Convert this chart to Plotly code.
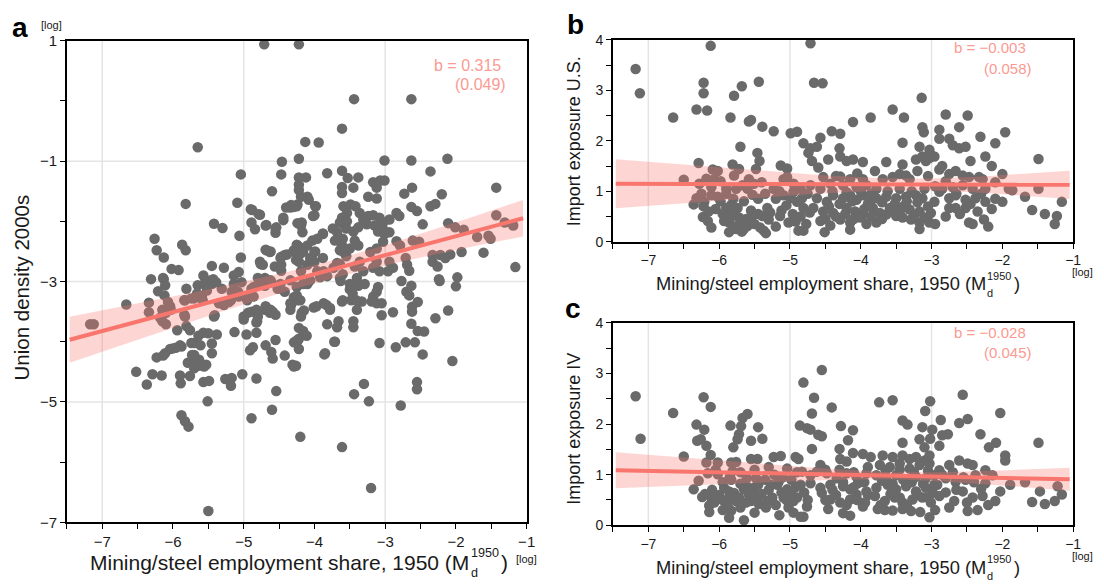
import numpy as np
import plotly.graph_objects as go

W, H = 1104, 586
FONT = "Liberation Sans, Arial, sans-serif"

# ---------------- data ----------------
# panel a: log mining/steel share (x) vs log union density 2000s (y)
a_x = [-4.71, -4.22, -5.65, -4.46, -4.47, -5.04, -4.22, -4.60, -4.40, -4.33, -4.29, -5.82, -5.09, -4.88, -4.77,
       -4.89, -4.84, -4.68, -4.54, -4.55, -4.44, -4.24, -5.42, -5.30, -5.06, -6.26, -6.23, -6.13, -5.87, -5.82,
       -6.02, -5.92, -5.45, -5.28, -5.04, -5.07, -5.14, -6.31, -6.14, -5.57, -5.43, -4.68, -4.63, -4.77, -4.73,
       -4.56, -4.47, -4.47, -4.42, -4.29, -4.24, -4.26, -4.47, -4.80, -4.70,
       -3.44, -2.63, -3.61, -4.13, -3.94, -3.01, -2.63, -2.12, -3.82, -3.61, -3.53, -3.38, -3.17, -3.07, -3.12,
       -3.01, -3.45, -3.24, -3.12, -3.61, -3.61, -4.22, -4.22, -4.22, -4.12, -4.19, -4.10, -4.24, -4.08, -2.73,
       -2.62, -2.36, -2.20, -1.43, -2.36, -2.29, -2.63, -2.55, -2.84, -2.80, -3.98, -4.00, -3.59, -3.54, -3.49,
       -3.42, -3.61, -3.59, -3.54, -3.36, -3.31, -3.24, -3.17, -3.08, -3.03, -3.26, -3.15, -3.10, -3.03, -2.94,
       -4.19, -4.17, -3.88, -3.68, -3.71, -3.45, -3.38, -3.43, -3.38, -3.61, -3.59, -3.64, -4.10, -4.03, -3.96,
       -4.22, -4.19, -4.00, -3.21, -3.12, -3.03, -3.01, -2.94, -2.84, -2.79, -2.61, -2.52, -2.47, -2.11, -2.01,
       -1.89, -1.70, -1.54, -1.51, -1.43, -1.31, -1.19, -1.61, -1.92, -2.33, -2.22, -2.15, -2.08, -2.33, -2.26,
       -1.98, -1.16, -2.24, -2.71, -2.69, -2.66, -2.94, -2.89, -2.96, -3.12, -3.17, -3.08, -3.36, -3.43, -3.31,
       -3.40, -3.68, -3.73, -3.64, -4.00, -3.96, -4.10, -4.19, -3.87, -3.82, -4.22,
       -7.17, -7.12, -6.66, -6.52, -6.37, -6.29, -6.16, -6.23, -6.14, -6.34, -6.34, -6.21, -6.12, -6.07, -6.15,
       -6.10, -6.15, -6.10, -6.03, -5.94, -6.04, -5.96, -5.88, -5.90, -5.89, -5.76, -5.88, -5.83, -5.78, -5.84,
       -5.84, -5.76, -5.70, -5.61, -5.73, -5.68, -5.64, -5.56, -5.79, -5.64, -5.57, -5.50, -5.38, -5.45, -5.45,
       -5.57, -5.49, -5.51, -5.50, -5.70, -5.66, -5.59, -5.52, -5.45, -5.41, -5.35, -5.28, -5.21, -5.17, -5.14,
       -5.03, -5.26, -5.17, -5.18, -5.13, -5.02, -4.96, -5.00, -4.94, -4.89, -4.82, -4.80, -4.82, -4.82, -4.89,
       -4.91, -4.87, -4.82, -4.69, -4.61, -4.59, -4.55, -4.54, -4.60, -4.70, -4.63, -4.59, -4.42, -4.31, -4.29,
       -4.33, -4.29, -4.24, -4.29, -4.94, -4.89, -4.70, -4.61, -4.52, -4.42, -5.08, -5.31, -4.20,
       -3.61, -3.20, -3.30, -3.44, -3.23, -3.08, -2.85, -2.78, -2.55, -2.55, -2.71, -2.58, -2.47, -2.05, -2.29,
       -2.11, -2.63, -2.54, -2.45, -2.62, -2.62, -2.70, -2.63, -2.66, -2.54, -2.23, -2.00, -2.77, -2.89, -3.05,
       -3.10, -3.12, -3.17, -3.19, -3.12, -3.05, -3.29, -3.38, -3.50, -3.48, -3.33, -3.40, -3.45, -3.45, -3.61,
       -3.66, -3.68, -3.82, -3.72, -3.86, -3.87, -3.78, -4.01, -4.15, -4.19, -4.24, -4.22, -4.15, -4.22, -4.22,
       -4.26, -4.10, -3.63, -3.40,
       -6.13, -6.11, -6.04, -6.18, -6.11, -6.00, -5.90, -5.74, -5.70, -5.63, -5.53, -5.70,
       -5.81, -5.65, -5.56, -5.46, -5.39, -5.83, -5.74, -5.65, -5.58, -5.83, -5.81,
       -5.42, -5.18, -5.07, -4.95, -4.86, -5.00, -4.69, -4.62, -4.55, -4.81,
       -4.86, -4.76, -4.62, -4.48, -4.34, -4.25, -4.16, -4.06, -3.92,
       -4.76, -4.69, -4.62, -4.48, -4.39, -4.30, -4.25, -4.16, -4.06, -3.99, -3.88,
       -4.34, -4.25, -4.20, -4.34, -4.18, -4.16, -4.25, -4.11, -3.85, -3.71, -3.97, -3.83, -3.78,
       -3.64, -3.55, -3.60, -3.50, -3.55, -3.64, -3.60, -3.50, -3.46, -3.41, -3.60,
       -4.90, -4.79, -4.69, -4.55, -4.44, -4.34, -4.25, -4.18, -4.02, -3.99, -3.88, -3.74]
a_y = [0.94, 0.94, -0.77, -1.01, -1.22, -1.22, -0.96, -1.50, -1.77, -1.73, -1.76, -1.71, -1.69, -1.81, -1.89,
       -2.02, -2.13, -2.06, -2.10, -2.19, -1.98, -2.03, -2.04, -2.11, -2.24, -2.29, -2.48, -2.60, -2.39, -2.48,
       -2.79, -2.81, -2.74, -2.77, -2.60, -2.84, -2.90, -2.96, -2.94, -2.90, -2.96, -2.48, -2.51, -2.67, -2.72,
       -2.75, -2.72, -2.59, -2.56, -2.48, -2.40, -2.64, -2.82, -2.94, -2.94,
       0.03, 0.03, -0.46, -0.68, -0.69, -0.99, -0.99, -0.96, -1.20, -1.16, -1.28, -1.27, -1.35, -1.32, -1.44,
       -1.32, -1.44, -1.59, -1.62, -1.43, -1.53, -1.27, -1.39, -1.48, -1.27, -1.59, -1.59, -1.72, -1.64, -1.54,
       -1.44, -1.17, -1.55, -1.44, -1.75, -1.71, -1.76, -1.83, -1.86, -1.91, -1.75, -1.90, -1.75, -1.86, -1.72,
       -1.75, -1.94, -2.05, -2.00, -1.86, -1.97, -1.91, -1.90, -1.94, -2.02, -2.05, -2.07, -2.17, -2.13, -1.97,
       -2.07, -2.18, -2.21, -2.18, -2.32, -2.17, -2.10, -2.32, -2.40, -2.40, -2.51, -2.48, -2.40, -2.32, -2.29,
       -2.42, -2.53, -2.51, -2.51, -2.45, -2.34, -2.21, -2.18, -2.33, -2.40, -2.32, -2.34, -2.05, -2.03, -2.10,
       -2.14, -2.26, -2.24, -2.29, -1.90, -2.02, -2.07, -2.52, -2.51, -2.56, -2.56, -2.61, -2.55, -2.67, -2.75,
       -2.93, -2.76, -2.96, -2.61, -2.72, -2.82, -2.67, -2.77, -2.83, -2.67, -2.77, -2.83, -2.67, -2.75, -2.83,
       -2.94, -2.69, -2.77, -2.94, -2.67, -2.83, -2.72, -2.83, -2.83, -2.91, -2.67,
       -3.71, -3.71, -3.38, -4.50, -4.71, -4.54, -4.56, -4.26, -4.23, -3.35, -3.51, -3.16, -3.23, -3.34, -3.47,
       -3.52, -3.66, -3.71, -3.47, -3.81, -4.12, -4.10, -4.08, -4.56, -4.69, -4.57, -5.22, -5.32, -5.41, -3.31,
       -3.55, -3.81, -4.02, -4.06, -4.22, -4.36, -4.40, -4.41, -4.35, -3.90, -3.85, -3.86, -3.88, -4.03, -4.19,
       -4.67, -4.65, -4.99, -6.81, -3.28, -3.20, -3.24, -3.15, -3.04, -3.56, -3.36, -3.39, -3.34, -3.17, -3.04,
       -3.01, -4.62, -4.60, -4.73, -3.84, -4.54, -3.88, -3.63, -3.52, -3.50, -3.47, -3.58, -3.68, -3.85, -5.27,
       -4.14, -4.09, -4.61, -4.06, -4.17, -4.28, -3.97, -4.82, -5.13, -3.47, -3.52, -3.50, -4.23, -4.38, -4.41,
       -3.39, -3.26, -3.99, -4.01, -3.23, -3.12, -3.07, -3.01, -3.12, -3.17, -3.17, -3.12, -5.58,
       -5.75, -6.43, -4.70, -4.87, -4.99, -4.02, -4.09, -5.06, -4.67, -4.79, -4.01, -4.01, -4.21, -4.32, -3.61,
       -3.48, -3.70, -3.82, -3.83, -3.50, -3.42, -3.17, -3.07, -3.23, -3.34, -2.99, -3.08, -2.99, -3.51, -3.56,
       -3.09, -3.17, -3.25, -3.33, -3.36, -3.36, -3.04, -3.07, -3.13, -3.31, -3.33, -3.47, -3.66, -3.76, -3.33,
       -3.66, -3.76, -3.71, -4.00, -4.21, -3.36, -3.47, -3.43, -3.48, -3.58, -3.31, -3.77, -3.87, -3.95, -4.12,
       -4.40, -3.04, -2.99, -3.01,
       -2.96, -3.06, -3.41, -3.60, -4.19, -4.11, -4.06, -4.02, -4.22, -4.30, -4.38, -4.44,
       -3.12, -3.06, -3.04, -2.98, -3.01, -3.31, -3.28, -3.25, -3.31, -3.58, -3.74,
       -3.58, -3.31, -3.25, -3.31, -3.25, -3.58, -3.41, -3.47, -3.55, -3.66,
       -3.09, -3.04, -2.98, -3.04, -2.98, -3.09, -3.04, -2.98, -2.93,
       -2.71, -2.47, -2.50, -2.61, -2.55, -2.50, -2.39, -2.50, -2.61, -2.50, -2.61,
       -3.36, -3.23, -3.31, -3.47, -3.52, -3.82, -3.98, -3.90, -4.19, -4.00, -3.41, -3.39, -3.44,
       -2.02, -2.12, -2.29, -2.45, -2.58, -2.71, -2.88, -3.04, -3.20, -3.31, -3.31,
       -1.80, -1.88, -2.07, -2.12, -1.94, -1.77, -1.75, -2.02, -1.91, -1.75, -2.20, -2.12]

# panel b: log mining/steel share (x) vs import exposure U.S. (y)
b_x = [-7.18, -7.12, -6.12, -6.22, -6.22, -5.79, -5.68, -5.44, -4.71, -4.66, -4.54, -3.14,
       -6.65, -6.32, -6.17, -5.84, -5.58, -5.55, -5.39, -5.23, -4.99, -4.90, -5.70, -5.46, -5.43, -6.29, -6.50,
       -6.28, -6.36, -6.23, -6.16, -6.11, -6.09, -6.02, -6.07, -6.32, -6.21, -6.11, -6.02, -6.11, -5.90, -5.83,
       -5.79, -5.88, -5.93, -5.86, -5.74, -5.72, -5.86, -5.76, -5.60, -5.65, -5.55, -5.81, -5.72, -5.79, -5.90,
       -5.76, -5.67, -5.58, -5.51, -5.53, -5.48, -5.32, -5.39, -5.30, -5.37, -5.34, -5.23, -5.13, -5.04, -5.09,
       -5.04, -5.14, -5.02, -5.09, -4.99, -4.95, -4.90, -4.83, -4.81, -4.88, -4.81, -4.81, -4.71, -4.62, -4.57,
       -4.74, -4.69, -4.60, -4.46, -4.41, -4.29, -4.11, -3.86, -3.55, -3.39, -4.30, -4.29, -4.20, -4.11, -3.97,
       -4.53, -4.29, -4.15, -3.97, -3.64, -3.41,
       -4.71, -4.57, -4.43, -4.25, -4.06, -3.92, -3.78, -3.69, -3.55, -3.45, -3.36, -3.31,
       -4.62, -4.48, -4.39, -4.25, -4.15, -4.06, -3.97, -3.87, -3.78, -3.64, -3.50, -3.36, -3.22, -3.13,
       -4.67, -4.53, -4.39, -4.20, -4.08, -3.97, -3.83, -3.73, -3.59, -3.45, -3.31, -3.17,
       -4.57, -4.43, -4.29, -4.15, -4.01, -3.92, -3.78, -3.64, -3.50, -3.41, -3.29, -3.17,
       -4.51, -4.15, -3.17, -3.03, -3.01,
       -3.13, -3.11, -2.89, -3.41, -3.17, -3.03, -3.01, -3.22, -3.13, -3.08, -3.03, -2.96, -2.89, -2.75, -2.70,
       -2.61, -2.52, -2.80, -2.61, -2.49, -2.31, -2.10, -1.96, -2.24, -2.15, -2.89, -2.85, -2.75, -2.66, -2.56,
       -2.47, -2.45, -2.33, -2.85, -2.70, -2.56, -2.42, -2.28, -2.24, -2.10, -2.00, -1.91, -1.68, -1.49, -1.49,
       -1.58, -1.40, -1.23, -1.26, -1.16, -2.89, -2.75, -2.66, -2.52, -2.38, -2.24, -2.00, -1.86, -2.96, -2.75,
       -2.66, -2.52, -2.26, -2.47, -2.42,
       -5.95, -5.85, -5.80, -5.70, -5.68, -5.62, -5.55, -5.50, -5.45, -5.42, -5.28, -5.20, -5.12, -5.05, -4.96,
       -4.92, -4.85, -4.77, -4.72, -6.05, -6.15, -6.22, -5.98, -5.90, -5.80, -5.65, -5.45, -5.35, -5.20, -5.15,
       -4.95, -4.85, -4.75, -5.98, -5.60, -5.40, -6.18, -6.25,
       -4.50, -4.35, -4.22, -4.10, -3.95, -3.85, -3.70, -3.55, -3.40, -3.25, -3.10, -4.45, -4.30, -4.12, -3.90,
       -3.70, -3.52, -3.35, -3.20, -3.05, -4.40, -4.20, -4.00, -3.85, -3.62, -3.45, -3.28, -3.10, -2.95, -4.35,
       -4.05, -3.80, -3.20, -3.05, -2.80, -2.65, -2.45, -2.30, -2.15, -2.10, -2.35, -2.60, -2.80, -2.95, -2.20]
b_y = [3.42, 2.94, 3.88, 3.15, 2.94, 2.89, 3.08, 3.17, 3.93, 3.15, 3.14, 2.85,
       2.46, 2.62, 2.60, 2.46, 2.38, 2.41, 2.28, 2.19, 2.15, 2.18, 1.88, 1.76, 1.60, 1.56, 1.23,
       1.15, 0.74, 0.49, 0.41, 0.28, 1.43, 1.40, 1.24, 0.86, 0.79, 0.92, 0.89, 1.08, 0.67, 0.73,
       0.60, 0.54, 0.41, 0.38, 0.67, 0.48, 0.19, 0.25, 0.31, 0.25, 0.48, 1.53, 1.44, 1.31, 1.05,
       1.05, 1.12, 1.24, 1.15, 0.93, 1.44, 0.67, 0.51, 0.44, 0.22, 0.17, 1.05, 1.51, 1.45, 1.24,
       1.28, 0.51, 0.38, 0.92, 0.86, 0.99, 0.79, 0.86, 0.67, 0.22, 0.22, 1.95, 1.85, 1.88, 2.06,
       1.76, 1.60, 1.47, 1.63, 2.19, 2.14, 2.37, 2.46, 2.62, 2.46, 1.85, 1.69, 1.60, 1.63, 1.58,
       1.28, 1.29, 1.24, 1.24, 1.58, 1.53,
       1.12, 1.05, 1.15, 1.12, 1.08, 1.12, 1.05, 1.24, 1.28, 1.34, 1.31, 1.24,
       0.86, 0.79, 0.92, 0.86, 0.92, 0.83, 0.92, 0.79, 0.86, 0.89, 0.86, 0.89, 0.92, 0.86,
       0.67, 0.60, 0.57, 0.67, 0.60, 0.54, 0.67, 0.57, 0.67, 0.60, 0.64, 0.60,
       0.41, 0.32, 0.44, 0.38, 0.48, 0.35, 0.38, 0.54, 0.51, 0.48, 0.44, 0.38,
       0.19, 0.24, 0.25, 0.38, 0.57,
       2.27, 2.17, 2.22, 1.96, 1.88, 1.82, 1.72, 1.63, 1.69, 1.60, 1.66, 1.69, 2.04, 2.04, 1.91,
       1.85, 1.88, 2.52, 2.27, 2.50, 2.08, 1.95, 2.17, 1.69, 1.50, 1.43, 1.50, 1.34, 1.40, 1.31,
       1.28, 1.60, 1.28, 1.05, 1.08, 1.12, 1.05, 1.24, 1.05, 1.18, 1.34, 1.05, 0.89, 1.05, 1.64,
       0.63, 0.55, 0.51, 0.35, 0.79, 0.99, 0.86, 0.92, 0.83, 0.86, 0.79, 0.79, 1.02, 0.79, 0.67,
       0.67, 0.67, 0.44, 0.38, 0.35,
       0.55, 0.45, 0.30, 0.40, 0.20, 0.45, 0.62, 0.35, 0.55, 0.28, 0.58, 0.30, 0.62, 0.72, 0.55,
       0.40, 0.50, 0.35, 0.58, 0.65, 0.60, 0.70, 0.80, 0.95, 0.85, 0.80, 0.85, 0.95, 0.85, 1.00,
       1.15, 1.05, 0.95, 1.20, 1.05, 1.18, 1.25, 0.95,
       0.45, 0.50, 0.55, 0.45, 0.65, 0.50, 0.45, 0.62, 0.70, 0.52, 0.48, 0.70, 0.75, 0.80, 0.75,
       0.78, 0.75, 0.80, 0.78, 0.70, 1.00, 0.98, 1.00, 0.95, 1.00, 1.05, 1.00, 1.05, 1.10, 1.30,
       1.35, 1.40, 1.40, 1.30, 1.20, 0.95, 0.75, 0.95, 0.65, 0.85, 0.60, 0.55, 0.50, 0.35, 0.30]

# panel c: log mining/steel share (x) vs import exposure IV (y)
c_x = [-4.55, -7.18, -7.11, -6.65, -6.50, -4.81, -6.22, -6.12, -6.32, -6.21, -6.31, -6.26, -6.18, -6.12,
       -6.36, -6.24, -6.18, -6.02, -6.16, -6.02, -6.29, -6.11, -6.07, -6.14, -6.14, -5.84, -5.69, -5.72,
       -5.74, -5.80, -5.67, -5.60, -5.45, -5.39, -5.55, -5.83, -5.76, -5.81, -5.83, -5.61, -5.48, -5.46,
       -5.55, -5.93, -5.86, -5.79, -5.90, -5.76, -5.88, -5.83, -5.86, -5.65, -5.65, -5.58, -5.51, -5.44,
       -5.55, -5.44, -5.34, -5.32, -5.23, -5.13, -5.18, -5.04, -4.92, -4.88, -5.27, -5.16, -5.04, -5.09,
       -5.02, -4.95, -4.86, -4.76, -4.71, -4.60, -4.55, -4.69, -4.66, -4.41, -4.28, -4.11, -4.18, -4.69,
       -4.57, -4.30, -4.29, -4.20, -4.11, -3.97, -3.86,
       -4.83, -4.71, -4.62, -4.48, -4.34, -4.20, -4.06, -3.92,
       -4.85, -4.71, -4.57, -4.43, -4.25, -4.15, -4.04, -3.92,
       -4.90, -4.76, -4.55, -4.43, -4.29, -4.15, -4.06, -3.94,
       -4.85, -4.81, -4.46, -4.25, -4.15, -3.97,
       -3.74, -3.55, -3.41, -3.34, -3.41, -3.17, -3.10, -3.13, -3.09, -3.02, -2.99, -3.02, -2.87, -2.89,
       -2.85, -2.77, -2.61, -2.49, -2.56, -2.31, -2.19, -2.09, -2.03, -1.96, -1.96, -1.49,
       -3.69, -3.55, -3.41, -3.31, -3.22, -3.10, -3.03,
       -3.73, -3.59, -3.45, -3.31, -3.17, -3.03,
       -3.78, -3.64, -3.50, -3.36, -3.22, -3.08, -2.96,
       -3.78, -3.62, -3.50, -3.36, -3.22, -3.08, -2.96,
       -3.80, -3.66, -3.52, -3.41, -3.27, -3.13, -3.01, -2.98,
       -3.76, -3.66, -3.55, -3.41, -3.29, -3.16, -3.03,
       -2.89, -2.75, -2.61, -2.49, -2.42, -2.24, -2.92, -2.80, -2.66, -2.52, -2.38, -2.24, -2.14,
       -2.89, -2.68, -2.56, -2.42, -2.28, -2.10, -2.03, -2.49,
       -1.89, -1.68, -1.47, -1.40, -1.58, -1.26, -1.16, -1.22,
       -6.00, -5.95, -5.85, -5.72, -5.70, -5.62, -5.55, -5.48, -5.40, -5.30, -5.25, -5.20, -5.12, -5.05, -4.98,
       -4.92, -4.80, -4.75, -6.10, -6.20, -5.95, -5.85, -5.70, -5.60, -5.45, -5.35, -5.22, -5.10, -4.98, -4.90,
       -5.70, -5.50, -5.30, -6.05, -4.95, -5.15, -5.50, -5.95,
       -4.50, -4.35, -4.20, -4.05, -3.90, -3.72, -3.58, -3.45, -3.35, -3.20, -3.05, -4.40, -4.25, -4.10, -3.95,
       -3.70, -3.55, -3.40, -3.28, -3.12, -4.50, -4.30, -4.10, -3.90, -3.65, -3.45, -3.25, -3.05, -2.85, -2.70,
       -2.55, -2.40, -2.30, -2.65, -2.80, -2.50, -2.20, -2.35, -2.75, -2.95]
c_y = [3.07, 2.55, 1.71, 2.22, 1.36, 2.82, 2.53, 2.34, 1.99, 1.89, 1.67, 1.70, 1.57, 1.39,
       0.71, 0.56, 1.24, 1.24, 1.03, 1.01, 0.88, 0.54, 0.45, 0.39, 0.26, 1.97, 1.96, 1.80,
       1.70, 1.54, 2.12, 2.20, 1.94, 1.71, 1.67, 1.24, 1.25, 1.07, 0.90, 0.93, 0.93, 1.31,
       1.31, 0.74, 0.67, 0.64, 0.48, 0.48, 0.39, 0.29, 0.15, 0.10, 0.71, 0.61, 0.74, 0.58,
       0.48, 0.42, 0.35, 0.48, 1.35, 1.37, 0.80, 1.12, 1.35, 1.31, 0.80, 0.86, 0.71, 0.55,
       0.35, 0.48, 1.97, 1.92, 1.89, 1.79, 1.76, 2.21, 2.52, 2.33, 1.96, 1.88, 1.68, 1.51,
       1.19, 1.51, 1.31, 1.26, 1.43, 1.41, 1.35,
       1.06, 0.99, 1.06, 1.03, 0.93, 1.03, 0.96, 1.03,
       0.80, 0.83, 0.74, 0.80, 0.77, 0.71, 0.83, 0.67,
       0.55, 0.37, 0.64, 0.51, 0.45, 0.51, 0.61, 0.45,
       0.17, 0.17, 0.32, 0.24, 0.19, 0.37,
       2.43, 2.47, 2.07, 1.99, 1.63, 1.70, 1.54, 1.94, 2.26, 2.45, 1.89, 1.71, 2.08, 1.57,
       1.78, 1.80, 2.02, 2.10, 2.58, 1.80, 1.54, 1.63, 2.22, 1.38, 1.28, 1.63,
       1.38, 1.35, 1.38, 1.31, 1.35, 1.28, 1.38,
       1.19, 1.15, 1.22, 1.12, 1.19, 1.22,
       0.99, 0.93, 0.99, 0.90, 0.96, 0.93, 0.99,
       0.74, 0.80, 0.71, 0.77, 0.67, 0.74, 0.80,
       0.58, 0.48, 0.55, 0.45, 0.51, 0.55, 0.45, 0.64,
       0.32, 0.30, 0.29, 0.32, 0.28, 0.26, 0.16,
       1.09, 1.19, 1.28, 1.22, 1.19, 1.09, 0.80, 0.93, 0.86, 0.90, 0.99, 0.83, 0.99,
       0.58, 0.48, 0.67, 0.55, 0.58, 0.48, 0.67, 0.28,
       0.80, 0.85, 0.67, 0.42, 0.46, 0.48, 0.61, 0.77,
       0.60, 0.50, 0.58, 0.55, 0.35, 0.45, 0.65, 0.50, 0.62, 0.70, 0.55, 0.40, 0.65, 0.50, 0.62,
       0.75, 0.65, 0.50, 0.70, 0.62, 0.85, 0.95, 0.82, 0.75, 0.80, 0.90, 1.00, 0.95, 0.90, 1.05,
       1.05, 1.10, 1.15, 1.10, 0.25, 0.20, 0.25, 0.30,
       0.50, 0.60, 0.40, 0.50, 0.60, 0.40, 0.62, 0.55, 0.40, 0.60, 0.55, 0.70, 0.85, 0.75, 0.85,
       0.88, 0.82, 0.90, 0.85, 0.82, 1.10, 1.10, 1.05, 1.15, 1.08, 1.10, 1.05, 1.08, 1.00, 1.05,
       0.95, 0.85, 0.72, 0.70, 0.65, 0.45, 0.40, 0.30, 0.35, 0.30]

# regression summaries per panel
slopes = [0.315, -0.003, -0.028]
slope_se = [0.049, 0.058, 0.045]
x_means = [-3.8, -3.3, -3.5]
y_at_mean = [-2.814, 1.135, 0.978]
resid_term = [0.0058, 0.0034, 0.0013]   # s^2 / n

x_ticks = [-7, -6, -5, -4, -3, -2, -1]
a_y_ticks = [1, -1, -3, -5, -7]
bc_y_ticks = [0, 1, 2, 3, 4]

# ---------------- styling ----------------
PT = "#6a6a6a"
LINE = "#f8766d"
BAND = "rgba(248,118,109,0.30)"
LABEL = "#fb9a92"
GRID = "#e4e4e4"


def lab(v):
    return str(v).replace("-", "\u2212")


def px(X):
    return X / W


def py(Y):
    return 1 - Y / H


fig = go.Figure()

panels = [("x", "y", a_x, a_y), ("x2", "y2", b_x, b_y), ("x3", "y3", c_x, c_y)]
for i, (xr, yr, xs, ys) in enumerate(panels):
    fig.add_trace(go.Scatter(x=xs, y=ys, mode="markers", xaxis=xr, yaxis=yr,
                             marker=dict(color=PT, size=10.5, line=dict(width=0)),
                             showlegend=False, hoverinfo="skip"))
    gx = np.linspace(-7.46, -1.05, 60)
    fit = y_at_mean[i] + slopes[i] * (gx - x_means[i])
    half = 1.96 * np.sqrt(resid_term[i] + (slope_se[i] * (gx - x_means[i])) ** 2)
    fig.add_trace(go.Scatter(x=gx, y=fit - half, mode="lines", line=dict(width=0),
                             xaxis=xr, yaxis=yr, showlegend=False, hoverinfo="skip"))
    fig.add_trace(go.Scatter(x=gx, y=fit + half, mode="lines", line=dict(width=0),
                             fill="tonexty", fillcolor=BAND,
                             xaxis=xr, yaxis=yr, showlegend=False, hoverinfo="skip"))
    fig.add_trace(go.Scatter(x=gx, y=fit, mode="lines", line=dict(color=LINE, width=4),
                             xaxis=xr, yaxis=yr, showlegend=False, hoverinfo="skip"))


def xaxis(domain, anchor, fs):
    return dict(domain=domain, anchor=anchor, range=[-7.5, -1], tickmode="array",
                tickvals=x_ticks, ticktext=[lab(v) for v in x_ticks],
                ticks="outside", ticklen=5, tickwidth=1.3, tickcolor="black",
                showline=True, linecolor="black", linewidth=1.6, mirror=True,
                showgrid=False, zeroline=False,
                minor=dict(tickmode="linear", tick0=-7.5, dtick=0.5, ticks="outside",
                           ticklen=5, tickwidth=1.3, tickcolor="black", showgrid=False),
                tickfont=dict(family=FONT, size=fs, color="#1a1a1a"))


def yaxis(domain, anchor, rng, vals, minor_step, fs):
    return dict(domain=domain, anchor=anchor, range=rng, tickmode="array",
                tickvals=vals, ticktext=[lab(v) for v in vals],
                ticks="outside", ticklen=5, tickwidth=1.3, tickcolor="black",
                showline=True, linecolor="black", linewidth=1.6, mirror=True,
                showgrid=False, zeroline=False,
                minor=dict(tickmode="linear", tick0=0, dtick=minor_step, ticks="outside",
                           ticklen=5, tickwidth=1.3, tickcolor="black", showgrid=False),
                tickfont=dict(family=FONT, size=fs, color="#1a1a1a"))


xa_dom = [px(67.4), px(531)]
xb_dom = [px(618), px(1082)]
ya_dom = [py(528.7), py(32.7)]
yb_dom = [py(239.7), py(31.7)]
yc_dom = [py(531.7), py(323.3)]

fig.update_layout(
    width=W, height=H, margin=dict(l=0, r=0, t=0, b=0),
    paper_bgcolor="white", plot_bgcolor="white",
    xaxis=xaxis(xa_dom, "y", 15),
    yaxis=yaxis(ya_dom, "x", [-7, 1], a_y_ticks, 1, 15),
    xaxis2=xaxis(xb_dom, "y2", 14),
    yaxis2=yaxis(yb_dom, "x2", [0, 4], bc_y_ticks, 0.5, 14),
    xaxis3=xaxis(xb_dom, "y3", 14),
    yaxis3=yaxis(yc_dom, "x3", [0, 4], bc_y_ticks, 0.5, 14),
)

# light reference grid
shapes = []
for xr, yr in [("x", "y"), ("x2", "y2"), ("x3", "y3")]:
    for gv in [-7, -5, -3]:
        shapes.append(dict(type="line", xref=xr, yref=yr + " domain", x0=gv, x1=gv, y0=0, y1=1,
                           line=dict(color=GRID, width=1.5), layer="below"))
for gv in [-1, -3, -5]:
    shapes.append(dict(type="line", xref="x domain", yref="y", x0=0, x1=1, y0=gv, y1=gv,
                       line=dict(color=GRID, width=1.5), layer="below"))
fig.update_layout(shapes=shapes)

ann = []


def text(X, Y, s, size, color="#1a1a1a", xanchor="center", angle=0, bold=False):
    ann.append(dict(x=px(X), y=py(Y), xref="paper", yref="paper", text=("<b>%s</b>" % s) if bold else s,
                    showarrow=False, xanchor=xanchor, yanchor="middle", textangle=angle,
                    font=dict(family=FONT, size=size, color=color)))


# panel letters
text(20, 19, "a", 28, "black", bold=True)
text(580, 16, "b", 28, "black", bold=True)
text(578, 308, "c", 28, "black", bold=True)

# [log] markers
text(52, 16, "[log]", 11)
text(531, 566, "[log]", 11)
text(1091, 271, "[log]", 11)
text(1091, 563, "[log]", 11)

# y titles
text(22, 287, "Union density 2000s", 20.5, angle=-90)
text(579, 136, "Import exposure U.S.", 18, angle=-90)
text(579, 432, "Import exposure IV", 18, angle=-90)


def xtitle(x_end, y_mid, size):
    small = size * 0.6
    text(x_end, y_mid, "Mining/steel employment share, 1950 (M", size, xanchor="right")
    text(x_end - 2.5, y_mid + size * 0.5, "d", small, xanchor="left")
    text(x_end - 2.5, y_mid - size * 0.45, "1950", small, xanchor="left")
    text(x_end - 1.5 + small * 2.224 + 1.5, y_mid, ")", size, xanchor="left")


xtitle(475, 570, 21)
xtitle(996, 283, 18.3)
xtitle(996, 575, 18.3)

# slope estimates
text(507, 58, "b = 0.315", 16, LABEL, xanchor="right")
text(512, 78, "(0.049)", 16, LABEL, xanchor="right")
text(1036, 40, "b = \u22120.003", 15, LABEL, xanchor="right")
text(1043, 61, "(0.058)", 15, LABEL, xanchor="right")
text(1036, 333, "b = \u22120.028", 15, LABEL, xanchor="right")
text(1043, 354, "(0.045)", 15, LABEL, xanchor="right")

fig.update_layout(annotations=ann)

fig.write_html("out.html")
